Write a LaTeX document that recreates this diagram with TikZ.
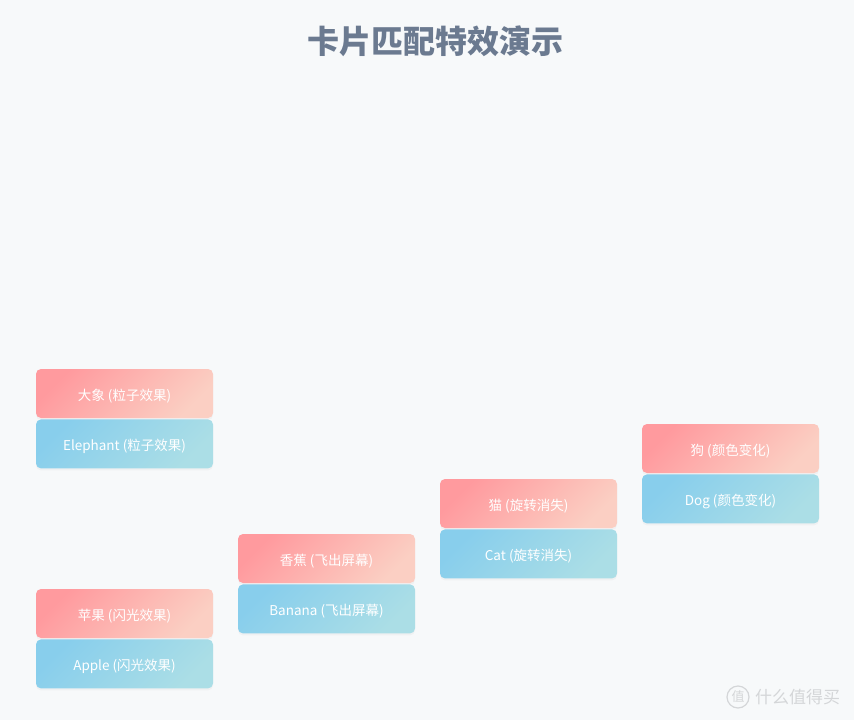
\documentclass[tikz,border=0pt]{standalone}
\usepackage{fontspec}
\setmainfont{Noto Sans CJK SC}
\usepackage{xcolor}
\usepackage{tikz}
\usetikzlibrary{positioning,shadows}
\definecolor{pageBg}{HTML}{F7F9FA}
\definecolor{titleGray}{HTML}{6B7A90}
\definecolor{pinkA}{HTML}{FF9A9E}
\definecolor{pinkB}{HTML}{FBCFC3}
\definecolor{blueA}{HTML}{88CEEC}
\definecolor{blueB}{HTML}{ABDEE6}
\definecolor{markGray}{HTML}{D4D6D8}
\tikzset{
  cd_base/.style={
    rectangle, rounded corners=5pt, draw=none,
    minimum width=177pt, minimum height=49pt,
    text height=14pt, text depth=0pt,
    text=white, font=\fontsize{13.5}{16}\selectfont,
    drop shadow={opacity=0.06, shadow xshift=0pt, shadow yshift=-2pt}
  },
  cd_pink/.style={
    cd_base, top color=pinkA, bottom color=pinkB, shading angle=45
  },
  cd_blue/.style={
    cd_base, top color=blueA, bottom color=blueB, shading angle=45
  },
  cd_title/.style={
    text=titleGray, font=\fontsize{32}{36}\selectfont\bfseries
  },
  cd_mark/.style={text=markGray, font=\fontsize{17}{20}\selectfont},
}
\begin{document}
\begin{tikzpicture}[x=1pt, y=-1pt, node distance=1pt]

\fill[pageBg] (0,0) rectangle (854,720);
\useasboundingbox (0,0) rectangle (854,720);

% Title
\node[cd_title] (title) at (435,41) {卡片匹配特效演示};

% Card pairs
\node[cd_pink] (eleZh) at (124.5,393.5) {大象 (粒子效果)};
\node[cd_blue, below=of eleZh] (eleEn) {Elephant (粒子效果)};

\node[cd_pink] (appZh) at (124.5,613.5) {苹果 (闪光效果)};
\node[cd_blue, below=of appZh] (appEn) {Apple (闪光效果)};

\node[cd_pink] (banZh) at (326.5,558.5) {香蕉 (飞出屏幕)};
\node[cd_blue, below=of banZh] (banEn) {Banana (飞出屏幕)};

\node[cd_pink] (catZh) at (528.5,503.5) {猫 (旋转消失)};
\node[cd_blue, below=of catZh] (catEn) {Cat (旋转消失)};

\node[cd_pink] (dogZh) at (730.5,448.5) {狗 (颜色变化)};
\node[cd_blue, below=of dogZh] (dogEn) {Dog (颜色变化)};

% Watermark
\node[circle, draw=markGray, line width=1.2pt, minimum size=22pt, inner sep=0pt,
      cd_mark, font=\fontsize{13}{15}\selectfont] (logo) at (738,697) {值};
\node[cd_mark, right=2pt of logo] (brand) {什么值得买};

\end{tikzpicture}
\end{document}
